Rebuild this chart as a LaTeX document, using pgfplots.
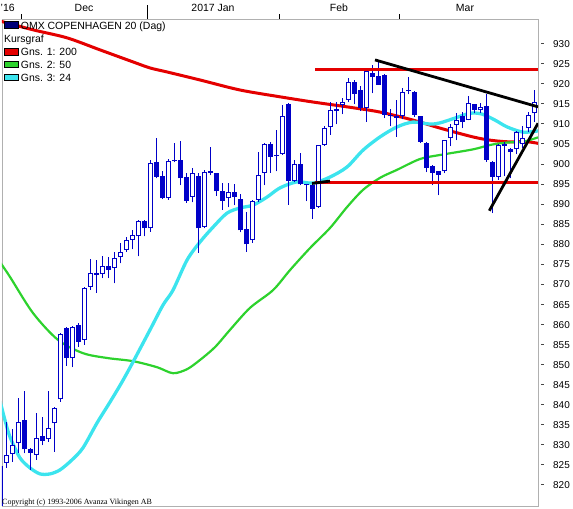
\documentclass[border=0pt]{standalone}
\usepackage{fontspec}
\setmainfont{Liberation Sans}
\newfontfamily\cpfont{Liberation Serif}
\usepackage{pgfplots}
\usepackage{pgfplotstable}
\pgfplotsset{compat=1.18}

\definecolor{cblue}{RGB}{0,0,200}
\definecolor{mared}{RGB}{228,0,0}
\definecolor{magreen}{RGB}{45,210,45}
\definecolor{macyan}{RGB}{60,228,238}
\definecolor{framegray}{RGB}{176,176,176}
\definecolor{dashgray}{RGB}{70,70,70}
\definecolor{navyswatch}{RGB}{0,0,120}

% daily candles, i = trading day (x pixel = 6*i)
\pgfplotstableread{
i o h l c
0 814.0 825.0 812.0 824.8
1 825.5 835.7 824.3 827.5
2 827.8 834.0 825.8 830.0
3 830.4 841.7 828.1 835.8
6 827.5 837.9 826.3 831.7
8 831.4 843.5 830.8 834.2
9 835.4 839.4 828.3 839.2
10 841.4 858.0 840.8 857.7
12 851.6 859.7 849.4 859.3
14 856.2 869.5 855.0 869.1
15 869.5 876.3 868.7 872.8
17 872.6 877.2 871.6 874.6
19 874.1 878.1 870.3 876.6
20 876.8 880.3 875.3 878.1
21 878.6 881.8 878.2 881.1
22 881.1 883.6 878.8 882.3
23 882.0 886.1 877.0 885.9
25 884.0 901.1 883.2 900.4
28 891.5 901.3 891.2 900.8
29 900.7 905.2 900.5 901.0
32 891.9 899.0 890.5 897.8
34 884.3 898.5 884.0 898.0
35 897.8 904.4 897.3 898.2
38 891.5 895.3 889.3 893.0
42 881.0 891.0 880.4 890.8
43 891.1 903.1 890.7 897.2
44 897.8 905.4 894.8 905.1
46 902.0 908.6 898.2 902.4
47 902.5 914.8 902.3 911.9
49 895.8 901.0 895.5 900.0
53 889.4 904.8 889.2 904.8
54 904.8 909.5 904.6 909.0
55 909.2 915.6 907.3 913.5
56 913.3 915.6 910.0 913.7
57 914.8 916.5 912.5 915.6
58 916.0 921.6 915.5 920.6
61 914.0 923.5 910.6 923.3
66 911.6 916.0 906.8 912.0
67 911.9 919.0 911.2 918.1
68 918.2 921.8 917.5 918.5
74 898.2 906.1 897.8 906.1
75 906.5 909.9 904.5 909.4
76 909.8 912.7 906.0 911.0
78 911.0 916.9 911.0 915.2
80 913.4 915.2 912.7 914.2
83 896.9 905.0 896.1 904.8
84 904.6 905.6 897.0 905.0
86 903.7 908.3 902.5 908.1
87 905.0 909.5 904.0 906.5
88 909.0 913.0 908.0 912.3
89 912.7 918.5 910.6 915.6
}\upcandles

\pgfplotstableread{
i o h l c
4 836.2 843.5 827.9 828.9
5 828.9 829.2 823.8 828.1
7 832.2 837.0 830.0 831.1
11 859.1 859.5 849.7 851.6
13 859.9 860.3 854.5 855.8
16 872.8 876.0 868.0 872.4
18 874.6 876.9 871.6 873.6
24 885.9 886.0 882.0 884.0
26 900.6 906.5 896.5 896.9
27 897.1 898.2 891.3 891.5
30 901.1 905.9 894.8 896.5
31 896.8 897.8 890.4 890.8
33 897.1 897.8 877.9 884.0
36 897.8 897.9 892.2 893.2
37 893.3 895.3 888.6 890.9
39 893.0 895.0 889.8 891.8
40 891.3 892.5 883.0 883.5
41 883.8 888.2 878.2 880.0
45 905.1 905.6 897.9 901.9
48 915.0 915.2 889.9 895.8
50 900.0 902.7 894.8 895.0
51 895.0 895.1 890.8 894.7
52 894.8 894.9 886.4 888.9
59 920.6 921.0 915.0 917.5
60 918.5 919.5 913.3 914.0
62 922.8 924.8 917.7 921.7
63 921.9 926.0 919.8 919.8
64 922.3 922.4 911.5 912.3
65 912.3 913.7 909.5 911.9
69 918.1 918.2 911.8 912.3
70 911.9 912.0 905.4 905.6
71 905.2 905.5 898.0 899.0
72 899.6 899.7 894.8 897.9
73 898.2 898.3 892.3 897.3
77 911.9 913.0 909.0 910.6
79 915.0 915.1 912.7 913.5
81 914.5 917.5 900.6 901.1
82 900.6 900.7 887.8 896.9
85 903.8 904.0 896.5 903.0
}\downcandles

\pgfplotsset{
  candlebar/.style 2 args={only marks, mark=*, mark size=0pt,
    mark options={draw=none, fill=none}, forget plot,
    error bars/.cd, y dir=plus, y explicit, error mark=none,
    error bar style={draw=#1, line width=#2}},
}

\begin{document}
\begin{tikzpicture}
\begin{axis}[
  scale only axis,
  width=536bp, height=487bp,
  xmin=0.3333, xmax=89.6667,
  ymin=814.8, ymax=936.2,
  axis line style={draw=framegray, line width=0.8bp},
  xtick=\empty,
  ytick={820,825,...,930},
  yticklabel pos=right,
  ytick style={draw=none},
  major tick length=0pt,
  yticklabel style={anchor=west, inner sep=0pt, xshift=3bp,
    font=\fontsize{10}{12}\selectfont},
  yticklabel={\textcolor{dashgray}{\rule[3.3bp]{3bp}{0.8bp}}\hspace{9bp}\pgfmathprintnumber{\tick}},
  /pgf/number format/fixed,
  /pgf/number format/precision=0,
  /pgf/number format/assume math mode=true,
]

% moving averages
\addplot[mared, line width=3bp, smooth] coordinates {
 (0,935.7) (5.5,933.5) (11.17,931.5) (16.67,928.5) (22.17,925.5) (25,924.0)
 (27.83,923.0) (33.33,921.0) (40,918.5) (46.67,916.8) (52.17,915.5)
 (57.83,914.3) (63.33,913.0) (68.83,911.0) (73.33,909.0) (78.83,906.8)
 (81.67,906.0) (84.5,905.6) (87.83,905.6) (89.67,905.2)
};
\addplot[magreen, line width=2.2bp, smooth] coordinates {
 (0,875.6) (1.67,871.9) (5.5,862.9) (9.67,856.2) (13.83,852.9) (17.83,851.7)
 (22.17,850.9) (26.17,849.4) (28.83,847.9) (31.17,848.9) (33.33,851.2)
 (35.83,854.4) (38.33,858.7) (41.67,864.2) (45.5,868.6) (48.33,873.6)
 (51.67,879.1) (55,884.1) (57.83,889.3) (60.5,893.6) (63.33,896.6)
 (66.17,898.6) (70,901.3) (73.33,902.3) (78.83,903.7) (81.67,904.8)
 (84.5,905.4) (87.17,905.6) (89.67,906.7)
};
\addplot[macyan, line width=3.3bp, smooth] coordinates {
 (0,841.0) (0.83,836.2) (1.67,832.0) (3.33,826.8) (5,824.3) (6.67,822.8)
 (8.33,822.8) (10,823.8) (12,826.3) (13.83,829.3) (16.17,835.5)
 (18.33,840.7) (20.33,845.7) (22.17,850.7) (25,858.7) (27.17,864.9)
 (28.83,868.6) (31.17,876.1) (33.33,880.6) (35.5,884.3) (37.83,887.8)
 (40,889.1) (42.17,889.8) (44.5,891.8) (46.67,894.1) (49.5,895.6)
 (52.17,895.3) (55,896.8) (57.83,899.3) (60.5,903.5) (63.33,906.8)
 (66.17,909.3) (68.83,910.5) (71.67,910.0) (73.33,910.3) (75.83,911.5)
 (78.33,912.7) (80.33,912.5) (82.5,911.0) (84.5,909.3) (87.17,908.0)
 (89.67,908.3)
};

% wicks
\addplot[candlebar={cblue}{1bp}] table[x=i, y=l, y error plus expr=\thisrow{h}-\thisrow{l}] {\upcandles};
\addplot[candlebar={cblue}{1bp}] table[x=i, y=l, y error plus expr=\thisrow{h}-\thisrow{l}] {\downcandles};
% bodies
\addplot[candlebar={cblue}{5bp}] table[x=i, y=c, y error plus expr=\thisrow{o}-\thisrow{c}] {\downcandles};
\addplot[candlebar={cblue}{5bp}] table[x=i, y=o, y error plus expr=\thisrow{c}-\thisrow{o}] {\upcandles};
\addplot[candlebar={white}{3bp}] table[x=i, y expr=\thisrow{o}+0.25,
  y error plus expr={max(\thisrow{c}-\thisrow{o}-0.5,0)}] {\upcandles};

% support / resistance and trend lines
\addplot[mared, line width=3bp] coordinates {(52.5,923.7) (89.67,923.7)};
\addplot[mared, line width=3bp] coordinates {(52.5,895.4) (89.67,895.4)};
\addplot[black, line width=2.8bp] coordinates {(62.5,926.0) (89.67,914.3)};
\addplot[black, line width=2.8bp] coordinates {(81.55,888.4) (89.67,910.2)};
\addplot[black, line width=2.8bp] coordinates {(52.0,895.2) (55,895.8)};
\end{axis}

% month scale on top
\begin{scope}[shift={(current axis.north west)}, x=1bp, y=1bp,
  every node/.style={inner sep=0pt, font=\fontsize{10.5}{12}\selectfont}]
  \node[anchor=base west] at (-1.5,7) {'16};
  \node[anchor=base] at (82,7) {Dec};
  \node[anchor=base] at (211,7) {2017 Jan};
  \node[anchor=base] at (337,7) {Feb};
  \node[anchor=base] at (463,7) {Mar};
  \draw[black, line width=0.8bp] (19,0) -- (19,4.5);
  \draw[black, line width=0.8bp] (145,0) -- (145,14);
  \draw[black, line width=0.8bp] (277,0) -- (277,4.5);
  \draw[black, line width=0.8bp] (397,0) -- (397,4.5);
% legend
  \filldraw[fill=navyswatch, draw=black, line width=0.6bp] (2,-2.7) rectangle (16,-9.3);
  \filldraw[fill=mared, draw=black, line width=0.6bp] (2,-29.3) rectangle (16,-36);
  \filldraw[fill=magreen, draw=black, line width=0.6bp] (2,-42.7) rectangle (16,-48.7);
  \filldraw[fill=macyan, draw=black, line width=0.6bp] (2,-55) rectangle (16,-61.7);
  \node[anchor=base west] at (18.7,-10.3) {OMX COPENHAGEN 20 (Dag)};
  \node[anchor=base west] at (2,-23.5) {Kursgraf};
  \node[anchor=base west] at (18.7,-36.8) {Gns. 1: 200};
  \node[anchor=base west] at (18.7,-50) {Gns. 2: 50};
  \node[anchor=base west] at (18.7,-63) {Gns. 3: 24};
\end{scope}

\begin{scope}[shift={(current axis.south west)}, x=1bp, y=1bp]
  \node[anchor=base west, inner sep=0pt, font=\cpfont\fontsize{8}{9}\selectfont]
    at (0,1.5) {Copyright (c) 1993-2006 Avanza Vikingen AB};
\end{scope}

\pgfresetboundingbox
\path ([shift={(-2bp,-3bp)}]current axis.south west) rectangle ([shift={(35bp,19bp)}]current axis.north east);
\end{tikzpicture}
\end{document}
